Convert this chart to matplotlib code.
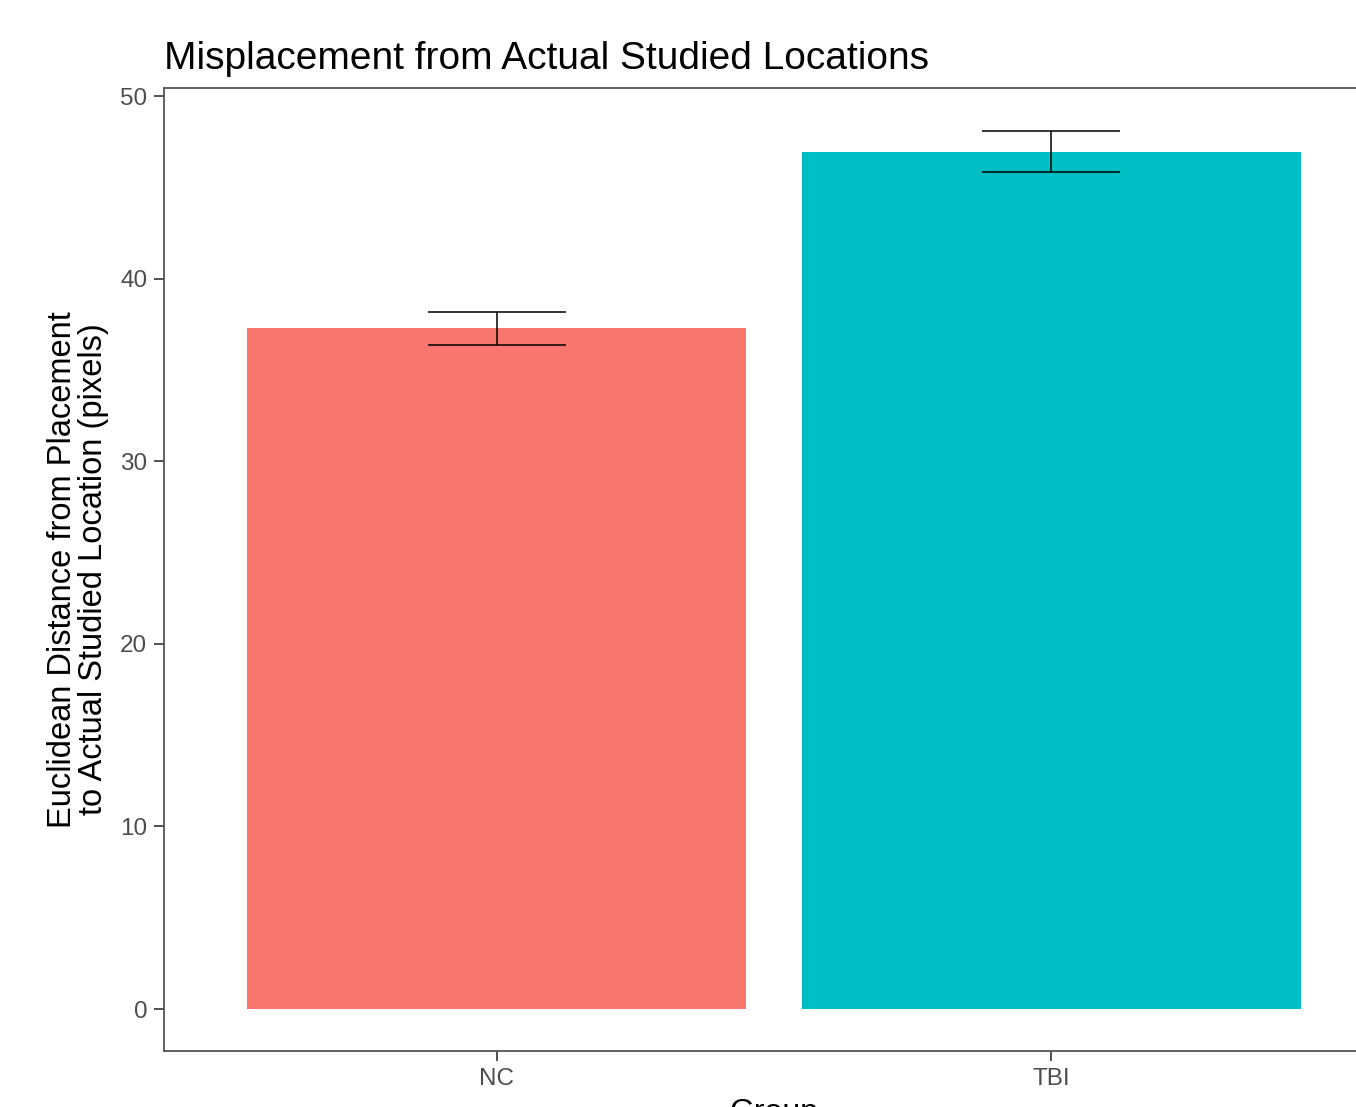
import matplotlib
matplotlib.use("Agg")
import matplotlib.pyplot as plt

groups = ["NC", "TBI"]
means = [37.3, 46.95]
err_low = [36.35, 45.85]
err_high = [38.2, 48.1]
colors = ["#F8766D", "#00BFC4"]

plt.rcParams["font.family"] = ["Liberation Sans", "DejaVu Sans"]

fig = plt.figure(figsize=(13.56, 11.07), dpi=100)
ax = fig.add_axes([164 / 1356, 56 / 1107, 1220 / 1356, 963 / 1107])

x = [1, 2]
ax.bar(x, means, width=0.9, color=colors, zorder=1)
yerr = [[m - lo for m, lo in zip(means, err_low)],
        [hi - m for m, hi in zip(means, err_high)]]
ax.errorbar(x, means, yerr=yerr, fmt="none", ecolor="black",
            elinewidth=1.1, capsize=50, capthick=1.1, zorder=2)

ax.set_xlim(0.4, 2.6)
ax.set_ylim(-2.3, 50.45)
ax.set_xticks(x)
ax.set_xticklabels(groups)
ax.set_yticks([0, 10, 20, 30, 40, 50])

for s in ax.spines.values():
    s.set_color("#555555")
    s.set_linewidth(1.3)

ax.tick_params(axis="both", colors="#333333", labelcolor="#4D4D4D",
               labelsize=17.5, length=7, width=1.2, pad=5)

ax.set_xlabel("Group", fontsize=23, color="black", labelpad=6)
ax.set_ylabel("Euclidean Distance from Placement\nto Actual Studied Location (pixels)",
              fontsize=23.5, color="black", labelpad=8, linespacing=1.0)
ax.set_title("Misplacement from Actual Studied Locations", fontsize=28,
             loc="left", pad=14)

fig.savefig("out.png", dpi=100)
